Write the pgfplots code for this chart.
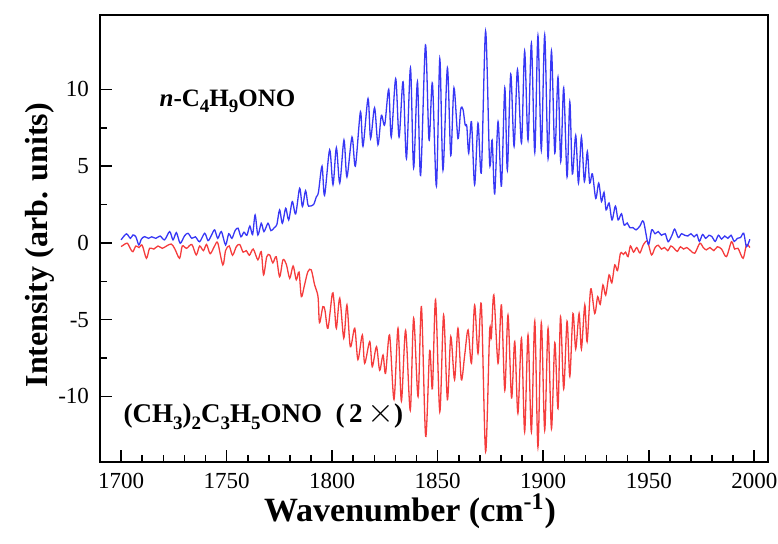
\documentclass[border=0pt]{standalone}
\usepackage{fontspec}
\setmainfont{Liberation Serif}
\usepackage{pgfplots}
\pgfplotsset{compat=1.18}
\usetikzlibrary{calc}

\definecolor{specblue}{RGB}{55,55,245}
\definecolor{specred}{RGB}{245,60,60}
% lowered subscript, larger than the font's own subscript glyphs
\newcommand\sub[1]{\raisebox{-0.55ex}{\fontsize{9.5}{10}\selectfont #1}}

\begin{document}
\begin{tikzpicture}
\begin{axis}[
    scale only axis, width=334pt, height=223.5pt,
    xmin=1690, xmax=2006.5, ymin=-14.27, ymax=14.85,
    xtick={1700,1750,...,2000}, minor x tick num=4,
    ytick={-10,-5,0,5,10}, minor y tick num=1,
    tick pos=left, tick align=inside,
    major tick length=6pt, minor tick length=3.5pt,
    axis line style={line width=1pt},
    every tick/.style={black, line width=0.8pt},
    ticklabel style={font=\fontsize{11.5}{13}\selectfont},
    xticklabel style={yshift=-2pt},
    yticklabel style={xshift=-2pt},
    /pgf/number format/assume math mode=true,
    /pgf/number format/1000 sep={},
    xlabel={Wavenumber (cm\textsuperscript{-1})},
    ylabel={Intensity (arb. units)},
    xlabel style={font=\fontsize{17}{20}\selectfont\bfseries,
                  at={(axis description cs:0.464,-0.134)}, anchor=base},
    ylabel style={font=\fontsize{16}{19}\selectfont\bfseries,
                  at={(axis description cs:-0.09,0.485)}, anchor=center},
]
\coordinate (sw) at (rel axis cs:0,0);
\coordinate (ne) at (rel axis cs:1,1);

% (CH3)2C3H5ONO, scaled 2x, drawn downwards
\addplot[color=specred, line width=0.65pt, smooth, tension=0.5] coordinates {
(1700,-0.24) (1701.5,-0.1) (1703,-0.02) (1704.5,-0.4) (1705.6,-0.57) (1707,-0.2)
(1708.5,-0.3) (1710,-0.15) (1712,-1.0) (1713.5,-0.35) (1715.5,-0.4) (1717.5,-0.2)
(1719.5,-0.35) (1721.5,-0.2) (1723.8,-0.07) (1725.5,-0.4) (1727.7,-1.0) (1729,-0.2)
(1731,-0.35) (1733.5,-0.1) (1735.6,-0.78) (1737.2,-0.2) (1739,-0.5) (1740.5,-0.1)
(1742.2,-0.7) (1744.3,-0.2) (1745.8,0.0) (1748.2,-1.43) (1749.5,-0.5) (1751.2,-0.2)
(1752.8,-0.8) (1754.6,-0.24) (1756.2,-0.1) (1757.8,-0.6) (1759.3,-0.5) (1760.8,-0.8)
(1762.6,-0.4) (1764.8,-1.1) (1766.4,-0.57) (1767.5,-2.08) (1769,-0.9) (1770.4,-0.78)
(1771.9,-1.3) (1773.5,-0.9) (1775.1,-2.2) (1776.7,-1.1) (1778.3,-1.4) (1779.9,-2.3)
(1781.5,-1.5) (1783,-2.4) (1784.3,-1.9) (1785.4,-3.5) (1786.8,-2.8) (1788.5,-1.87)
(1790.1,-1.76) (1791.7,-2.74) (1793.3,-3.5) (1794,-5.2) (1795.6,-4.15) (1796.6,-4.4)
(1798,-5.56) (1800.1,-3.28) (1801,-4.0) (1802,-5.56) (1803.6,-3.6) (1805.5,-6.2)
(1807,-4.04) (1808.6,-6.76) (1810.7,-5.56) (1812.2,-7.6) (1814.3,-6.0) (1815.4,-7.84)
(1817.8,-6.43) (1819,-8.06) (1821,-6.76) (1822.5,-8.3) (1824.1,-7.3) (1825.3,-8.5)
(1827.2,-6.0) (1829.3,-10.2) (1831.2,-5.56) (1832.8,-10.3) (1834.8,-5.7) (1837,-10.9)
(1838.6,-4.9) (1840.7,-10.0) (1842.3,-4.15) (1844.3,-12.6) (1846.2,-7.0) (1847.5,-9.5)
(1849,-3.7) (1851,-11.0) (1852.8,-4.7) (1854.6,-10.2) (1856.2,-6.1) (1858,-8.9)
(1859.6,-5.56) (1861.2,-8.9) (1862.8,-7.3) (1864.4,-5.67) (1866,-7.84) (1867.5,-4.04)
(1869.1,-7.2) (1870.7,-4.04) (1872.7,-13.6) (1874.6,-5.78) (1875.4,-6.2) (1876.6,-3.39)
(1878.6,-7.84) (1880.2,-4.04) (1881.8,-9.6) (1883.3,-4.7) (1885,-10.1) (1886.5,-6.43)
(1888,-11.1) (1889.7,-6.2) (1891.2,-12.3) (1892.8,-6.0) (1894.4,-12.3) (1896,-5.1)
(1897.5,-13.3) (1899.1,-5.2) (1900.7,-12.2) (1902.3,-5.56) (1903.9,-12.1) (1905.5,-6.5)
(1907,-10.8) (1908.2,-4.8) (1909.7,-9.5) (1911.3,-5.1) (1912.6,-8.7) (1914.1,-4.6)
(1915.4,-6.9) (1917,-4.6) (1918.1,-6.9) (1919.7,-4.04) (1920.8,-6.43) (1922.5,-3.0)
(1924.4,-4.6) (1925.8,-3.5) (1927,-4.0) (1928.3,-2.74) (1929.6,-3.4) (1931.2,-2.08)
(1932.5,-2.6) (1933.9,-1.43) (1935.2,-1.8) (1936.6,-0.67) (1938,-0.75) (1939,-0.6)
(1940.2,-0.89) (1941.3,-0.2) (1942.8,-0.6) (1944.3,-0.3) (1945.8,-0.65) (1947.5,-0.1)
(1949.4,0.1) (1951.3,-0.78) (1953,-0.3) (1954.5,-0.15) (1956,-0.4) (1957.5,-0.3)
(1959,-0.5) (1960.5,-0.2) (1962,-0.35) (1963.5,-0.55) (1965,-0.25) (1966.5,-0.4)
(1968,-0.3) (1969.8,-0.5) (1971.8,-0.67) (1974.2,-0.02) (1975.8,-0.3) (1977.3,-0.45)
(1979,-0.3) (1980.8,-0.5) (1982.5,-0.25) (1984.5,-0.4) (1986.8,-0.89) (1989.2,0.08)
(1990.7,-0.4) (1992.3,-0.35) (1994.7,-1.0) (1996.3,-0.13) (1997.9,-0.3)
};

% n-C4H9ONO
\addplot[color=specblue, line width=0.65pt, smooth, tension=0.5] coordinates {
(1700,0.2) (1702.5,0.59) (1704.4,0.3) (1705.6,0.52) (1707,0.4) (1708.4,-0.13)
(1709.6,0.25) (1711.1,0.41) (1713,0.3) (1714.5,0.4) (1716.5,0.3) (1718.5,0.45)
(1720.6,0.2) (1723,0.74) (1724.6,0.2) (1726.2,0.67) (1728,-0.02) (1730,0.45)
(1731.7,0.63) (1733.5,0.3) (1735.2,0.4) (1737.2,0.08) (1739.6,0.63) (1741.2,0.15)
(1742.8,0.5) (1744.3,0.85) (1745.8,0.3) (1747.5,0.74) (1749.5,-0.13) (1751,0.6)
(1752.5,0.3) (1754,0.8) (1755.4,0.96) (1756.8,0.4) (1758.2,0.7) (1759.6,0.5)
(1761,1.1) (1762.3,0.55) (1763.5,1.82) (1764.8,0.52) (1766.4,1.28) (1767.7,0.74)
(1769.6,1.28) (1771,0.8) (1772.6,1.0) (1773.8,1.2) (1775.1,2.15) (1776.4,1.28)
(1778,2.26) (1779.4,1.5) (1781.1,2.69) (1782.7,1.89) (1784.6,3.56) (1785.9,2.37)
(1787.4,3.4) (1788.5,2.5) (1789.3,2.4) (1791.2,2.5) (1792.5,3.0) (1793.5,3.3)
(1795.2,5.0) (1796.4,3.1) (1798.8,6.06) (1800.4,3.8) (1802,6.2) (1803.6,3.9)
(1805.6,6.7) (1807,4.3) (1809.4,6.9) (1811,5.0) (1813.4,8.55) (1814.6,6.3)
(1817,9.4) (1818.2,6.8) (1820.1,8.8) (1821.7,6.4) (1823.3,8.3) (1824.9,7.7)
(1826.8,10.0) (1828,6.9) (1830.1,10.7) (1831.7,6.9) (1833.6,10.5) (1835.2,5.5)
(1837.1,11.4) (1838.6,4.9) (1840.4,10.5) (1841.9,4.4) (1844.2,12.9) (1845.9,6.7)
(1847.5,10.4) (1849.4,3.7) (1851,12.0) (1852.5,4.75) (1854.6,11.4) (1856.2,5.7)
(1857.7,10.1) (1859.6,6.8) (1860.9,8.7) (1862,8.7) (1863,7.7) (1863.8,7.6)
(1864.7,5.85) (1866,7.9) (1867.5,3.8) (1869.1,7.8) (1870.7,4.65) (1872.7,13.8)
(1874.6,5.2) (1875.8,6.7) (1877,3.2) (1878.6,7.9) (1880.2,3.7) (1881.8,10.1)
(1883,4.75) (1884.6,11.0) (1886.2,6.3) (1887.8,11.3) (1889.7,6.5) (1891.2,12.5)
(1892.8,6.7) (1894.4,13.0) (1896,5.9) (1897.5,13.5) (1899.1,6.05) (1900.7,13.55)
(1902.3,5.5) (1903.9,12.5) (1905.5,5.85) (1907,10.8) (1908.3,5.3) (1909.7,10.1)
(1911.3,4.3) (1912.6,9.2) (1913.8,4.5) (1915.4,7.0) (1916.7,3.9) (1918.1,6.9)
(1919.5,4.0) (1920.9,5.95) (1922,3.9) (1923.3,4.5) (1924.9,2.9) (1926.3,3.9)
(1927.6,2.7) (1928.8,3.3) (1929.8,2.15) (1931.2,2.6) (1932.6,1.5) (1934.2,2.4)
(1935.5,1.5) (1937.1,1.9) (1938.3,1.17) (1939.8,1.3) (1941,1.0) (1942.5,1.0)
(1944,0.85) (1945.8,1.1) (1947.5,1.4) (1949.8,-0.1) (1951.4,0.85) (1953,0.6)
(1954.5,0.74) (1956,0.5) (1957.8,0.6) (1959.2,0.08) (1961,0.5) (1962.3,0.9)
(1964,0.35) (1965.5,0.6) (1967,0.5) (1968.5,0.45) (1970,0.6) (1971.5,0.4)
(1972.8,0.55) (1974,0.1) (1975.5,0.55) (1977,0.3) (1978.5,0.5) (1980,0.4)
(1981.5,0.1) (1983,0.5) (1984.5,0.25) (1986,0.45) (1987.5,0.3) (1989,0.5)
(1990.5,0.1) (1992,0.3) (1993.5,0.35) (1995,0.63) (1996.3,-0.24) (1997.9,0.24)
};

\node[anchor=base west, font=\fontsize{12.5}{14}\selectfont\bfseries]
  at (axis cs:1714.9,8.9) {\textit{n}-C\sub{4}H\sub{9}ONO};
\node[anchor=base west, font=\fontsize{13.5}{15}\selectfont\bfseries]
  at (axis cs:1697.9,-11.7)
  {(CH\sub{3})\sub{2}C\sub{3}H\sub{5}ONO\ \ (\,2\,{\fontsize{19}{19}\selectfont$\times$})};
\end{axis}
\pgfresetboundingbox
\path ($(sw)+(-50pt,-41pt)$) rectangle ($(ne)+(5pt,7.5pt)$);
\end{tikzpicture}
\end{document}
